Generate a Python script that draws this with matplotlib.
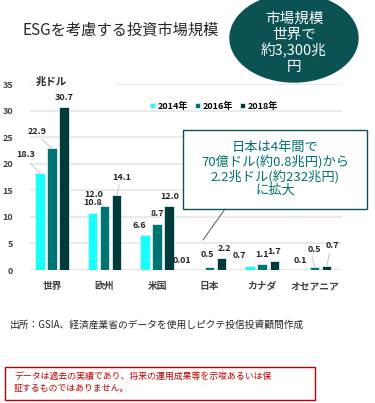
import numpy as np
import matplotlib.pyplot as plt
from matplotlib.patches import Ellipse, Rectangle

plt.rcParams['font.family'] = ['Noto Sans CJK JP', 'DejaVu Sans']

# data (trillion USD)
regions = ["世界", "欧州", "米国", "日本", "カナダ", "オセアニア"]
years = ["2014年", "2016年", "2018年"]
v2014 = [18.3, 10.8, 6.6, 0.01, 0.7, 0.1]
v2016 = [22.9, 12.0, 8.7, 0.5, 1.1, 0.5]
v2018 = [30.7, 14.1, 12.0, 2.2, 1.7, 0.7]
label_text = [
    ["18.3", "10.8", "6.6", "0.01", "0.7", "0.1"],
    ["22.9", "12.0", "8.7", "0.5", "1.1", "0.5"],
    ["30.7", "14.1", "12.0", "2.2", "1.7", "0.7"],
]
colors = ["#19FFFF", "#007373", "#003A3A"]
teal = "#0B5252"

fig = plt.figure(figsize=(3.75, 4.03), dpi=100)
ax = fig.add_axes([0.08, 0.330, 0.832, 0.4615])

x = np.arange(len(regions))
width = 0.18
offsets = [-0.23, 0, 0.23]
# (series, region) -> label offset in data units; some get leader lines
shifts = {(0, 0): (-0.28, 2.5), (1, 0): (-0.28, 2.3), (1, 1): (-0.2, 1.3),
          (2, 1): (0.1, 2.5), (0, 2): (-0.1, 1.0), (0, 3): (-0.3, 1.0),
          (1, 3): (-0.05, 1.6), (2, 3): (0.05, 1.0), (0, 4): (-0.2, 1.2),
          (1, 4): (0.0, 1.0), (2, 4): (0.0, 1.0), (0, 5): (-0.05, 1.0),
          (1, 5): (0.0, 2.6), (2, 5): (0.1, 3.0)}
leaders = [(0, 0), (1, 0), (1, 1), (2, 1), (1, 5), (2, 5)]

for k, vals in enumerate([v2014, v2016, v2018]):
    bars = ax.bar(x + offsets[k], vals, width, color=colors[k], edgecolor="#D8F0F0",
                  linewidth=0.6, label=years[k], zorder=3)
    for i, b in enumerate(bars):
        h = b.get_height()
        bx = b.get_x() + b.get_width() / 2
        dx, dy = shifts.get((k, i), (0, 1.0))
        tx = bx + dx
        ty = (0 if (k, i) in [(0, 3), (0, 5)] else h) + dy
        if (k, i) in leaders:
            ax.plot([bx, tx + (0.08 if dx < 0 else -0.05)], [h, ty - 0.6],
                    color="#BFBFBF", lw=0.6, zorder=2)
        ax.text(tx, ty, label_text[k][i], ha="center", va="bottom", fontsize=6.5,
                fontweight="bold", color="#262626", zorder=4)

ax.set_xlim(-0.42, 5.52)
ax.set_ylim(0, 35)
ax.set_yticks(range(0, 36, 5))
ax.set_xticks(x)
ax.set_xticklabels(regions, fontsize=7, fontweight="bold", color="#404040")
ax.tick_params(axis="y", labelsize=6.5, colors="#404040", length=0, pad=12)
ax.tick_params(axis="x", length=0, pad=8)
for lbl in ax.get_yticklabels():
    lbl.set_fontweight("bold")
ax.grid(axis="y", color="#E6E6E6", lw=1.2, zorder=0)
for s in ax.spines.values():
    s.set_visible(False)
ax.axhline(0, color="#D9D9D9", lw=1, zorder=1)

ax.legend(loc="upper left", bbox_to_anchor=(0.36, 0.95), ncol=3, frameon=False,
          handlelength=0.5, handleheight=0.5, handletextpad=0.3,
          columnspacing=0.8, prop={"weight": "bold", "size": 6.5})

# decorations placed in pixel coordinates
ov = fig.add_axes([0, 0, 1, 1], zorder=5)
ov.set_xlim(0, 375)
ov.set_ylim(403, 0)
ov.axis("off")
ov.patch.set_alpha(0)

ov.add_patch(Rectangle((33, 74), 80, 16, color="white"))
ov.text(22, 30, "ESGを考慮する投資市場規模", fontsize=11, color="#262626", va="center")
ov.text(36, 82, "兆ドル", fontsize=7.5, fontweight="bold", color="#262626", va="center")

ov.add_patch(Ellipse((294, 38), 128, 88, color=teal))
ov.text(294, 43, "市場規模\n世界で\n約3,300兆\n円", fontsize=10.5, color="white",
        ha="center", va="center", linespacing=1.15)

ov.add_patch(Rectangle((183, 130), 184, 79, facecolor="white", edgecolor=teal, lw=1))
ov.text(275, 169, "日本は4年間で\n70億ドル(約0.8兆円)から\n2.2兆ドル(約232兆円)\nに拡大",
        fontsize=9.5, color="#007070", ha="center", va="center", linespacing=1.05)
ov.plot([225, 203], [209, 240], color="#595959", lw=0.7)

ov.text(10, 325, "出所：GSIA、経済産業省のデータを使用しピクテ投信投資顧問作成",
        fontsize=7, color="#262626", va="center")

ov.add_patch(Rectangle((5, 367), 310, 33, facecolor="white", edgecolor="#C00000", lw=1))
ov.text(14, 383, "データは過去の実績であり、将来の運用成果等を示唆あるいは保\n証するものではありません。",
        fontsize=6.4, color="#C00000", va="center", linespacing=1.3)

fig.savefig("out.png", dpi=100)
